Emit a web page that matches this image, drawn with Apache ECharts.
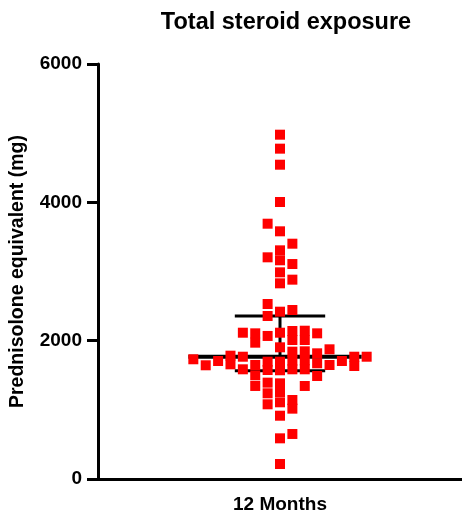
<!DOCTYPE html>
<html>
<head>
<meta charset="utf-8">
<script src="https://cdn.jsdelivr.net/npm/echarts@6/dist/echarts.min.js"></script>
<style>
  html, body { margin: 0; padding: 0; background: #fff; }
  #chart { width: 462px; height: 516px; }
</style>
</head>
<body>
<div id="chart"></div>
<script>
// one category on the x axis
const categories = ['12 Months']
// total prednisolone-equivalent dose per patient (mg)
const steroidMg = [
  1731,
  1644,
  1706,
  1783, 1658,
  2115, 1768, 1586,
  2106, 1971, 1648, 1499, 1345,
  3691, 3205, 2530, 2357, 2068, 1696, 1576, 1393, 1239, 1080,
  4978, 4776, 4544, 4005, 3581, 3306, 3162, 2988, 2829, 2419, 2115, 1904, 1696, 1572, 1383, 1258, 1109, 915, 588, 217,
  3402, 3108, 2882, 2443, 2140, 2010, 1841, 1711, 1586, 1142, 1017, 651,
  2144, 2010, 1846, 1716, 1586, 1345,
  2106, 1817, 1673, 1489,
  1875, 1648,
  1706,
  1768, 1634,
  1768
]
// swarm column of each point (0 = centre of the category)
const swarmColumn = [
  -7,
  -6,
  -5,
  -4, -4,
  -3, -3, -3,
  -2, -2, -2, -2, -2,
  -1, -1, -1, -1, -1, -1, -1, -1, -1, -1,
  0, 0, 0, 0, 0, 0, 0, 0, 0, 0, 0, 0, 0, 0, 0, 0, 0, 0, 0, 0,
  1, 1, 1, 1, 1, 1, 1, 1, 1, 1, 1, 1,
  2, 2, 2, 2, 2, 2,
  3, 3, 3, 3,
  4, 4,
  5,
  6, 6,
  7
]
// median and interquartile range (mg)
const medianMg = 1768
const q1Mg = 1566
const q3Mg = 2357
const yTicks = [0, 2000, 4000, 6000]

const font = 'Liberation Sans, Arial, sans-serif'
const chart = echarts.init(document.getElementById('chart'))

const points = steroidMg.map((v, i) => [swarmColumn[i], v])

chart.setOption({
  animation: false,
  title: {
    text: 'Total steroid exposure',
    left: 281,
    textAlign: 'center',
    top: 6,
    textStyle: { fontFamily: font, fontWeight: 'bold', fontSize: 23.5, color: '#000' }
  },
  grid: { left: 98, right: 0, top: 64, bottom: 37 },
  xAxis: [{
    type: 'value',
    min: -14.7,
    max: 14.7,
    show: false
  }, {
    type: 'category',
    data: categories,
    position: 'bottom',
    axisLine: { lineStyle: { color: '#000', width: 3 } },
    axisTick: { alignWithLabel: true, length: 11, lineStyle: { color: '#000', width: 3 } },
    axisLabel: { margin: 16, color: '#000', fontFamily: font, fontWeight: 'bold', fontSize: 19 }
  }],
  yAxis: {
    type: 'value',
    position: 'left',
    min: yTicks[0],
    max: yTicks[yTicks.length - 1],
    interval: 2000,
    name: 'Prednisolone equivalent (mg)',
    nameLocation: 'middle',
    nameGap: 70,
    nameTextStyle: { fontFamily: font, fontWeight: 'bold', fontSize: 19.5, color: '#000' },
    splitLine: { show: false },
    axisLine: { show: true, onZero: false, lineStyle: { color: '#000', width: 3 } },
    axisTick: { show: true, length: 11, lineStyle: { color: '#000', width: 3 } },
    axisLabel: {
      margin: 16, color: '#000', fontFamily: font, fontWeight: 'bold', fontSize: 19,
      formatter: v => String(v)
    }
  },
  series: [{
    type: 'line',
    xAxisIndex: 0,
    data: [[-7.4, medianMg], [6.6, medianMg]],
    symbol: 'none',
    lineStyle: { color: '#000', width: 4 },
    z: 1
  }, {
    type: 'line',
    xAxisIndex: 0,
    data: [[-3.65, q3Mg], [3.65, q3Mg]],
    symbol: 'none',
    lineStyle: { color: '#000', width: 3 },
    z: 1
  }, {
    type: 'line',
    xAxisIndex: 0,
    data: [[-3.65, q1Mg], [3.65, q1Mg]],
    symbol: 'none',
    lineStyle: { color: '#000', width: 3 },
    z: 1
  }, {
    type: 'line',
    xAxisIndex: 0,
    data: [[0, q1Mg], [0, q3Mg]],
    symbol: 'none',
    lineStyle: { color: '#000', width: 3 },
    z: 1
  }, {
    type: 'scatter',
    xAxisIndex: 0,
    data: points,
    symbol: 'rect',
    symbolSize: 10,
    itemStyle: { color: '#ff0000', opacity: 1 },
    z: 3
  }]
})
</script>
</body>
</html>
